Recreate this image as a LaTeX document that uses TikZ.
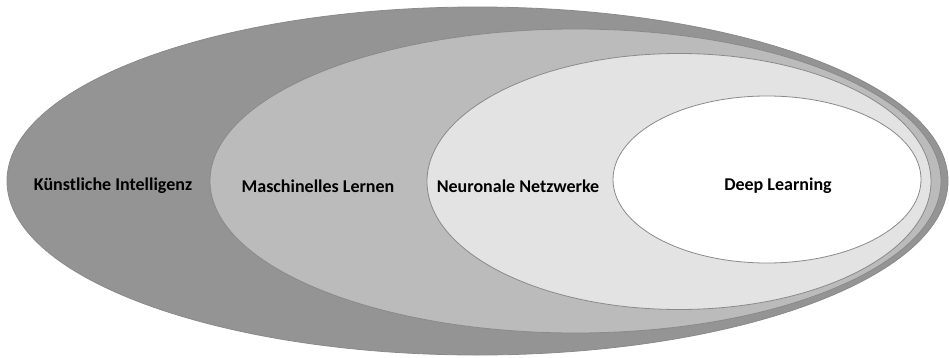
\documentclass[tikz,border=0pt]{standalone}
\usepackage{fontspec}
\setmainfont{Carlito}
\usetikzlibrary{shapes.geometric}
\definecolor{ringA}{HTML}{949494}
\definecolor{ringB}{HTML}{BBBBBB}
\definecolor{ringC}{HTML}{E3E3E3}
\definecolor{ringline}{HTML}{8A8A8A}
\tikzset{
  ring/.style={ellipse, draw=ringline, line width=0.8pt, inner sep=0pt},
  tag/.style={font=\fontsize{18}{20}\selectfont\bfseries, text=black, inner sep=0pt}
}
\begin{document}
\begin{tikzpicture}[x=1pt,y=1pt]
  \useasboundingbox (0,0) rectangle (949,357);
  % nested fields, from the broadest to the narrowest
  \node[ring, fill=ringA, minimum width=941pt, minimum height=348pt] (ki) at (477.5,176) {};
  \node[ring, fill=ringB, minimum width=731pt, minimum height=304pt] (ml) at (575.5,176) {};
  \node[ring, fill=ringC, minimum width=504pt, minimum height=256pt] (nn) at (679,175.5) {};
  \node[ring, fill=white, minimum width=308pt, minimum height=167pt] (dl) at (767,177.5) {};
  % labels
  \node[tag] (tki) at (113,171) {Künstliche Intelligenz};
  \node[tag] (tml) at (318,171) {Maschinelles Lernen};
  \node[tag] (tnn) at (518,171) {Neuronale Netzwerke};
  \node[tag] (tdl) at (778,171) {Deep Learning};
\end{tikzpicture}
\end{document}
